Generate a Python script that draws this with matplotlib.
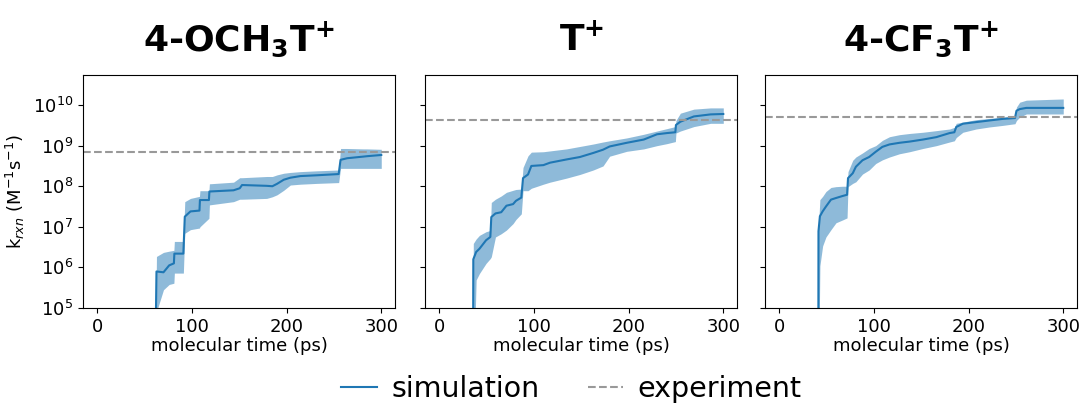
"""Rate-constant convergence for three substituted tropylium cations."""

import matplotlib

matplotlib.use("Agg")
import matplotlib.pyplot as plt  # noqa: E402
import numpy as np  # noqa: E402
from matplotlib.ticker import NullLocator  # noqa: E402

SIM_C = "#1f77b4"
EXP_C = "#999999"

plt.rcParams.update({
    "mathtext.fontset": "custom",
    "mathtext.rm": "DejaVu Sans",
    "mathtext.it": "DejaVu Sans:italic",
    "mathtext.bf": "DejaVu Sans:bold",
})

titles = ["4-OCH$_\\mathbf{3}$T$^\\mathbf{+}$", "T$^\\mathbf{+}$", "4-CF$_\\mathbf{3}$T$^\\mathbf{+}$"]
experiment = [7.0e8, 4.3e9, 5.1e9]

# --- 4-OCH3T+ (log10 k) ---
och3_t = [61, 62.6, 70, 76, 81, 81.5, 91, 92.5, 98.5, 108, 108.5, 118, 118.5, 144,
          150.5, 153, 179, 185, 190, 197, 204, 214.5, 232, 255, 257, 264, 281, 285, 300]
och3_mean = [3.0, 5.9, 5.88, 6.05, 6.1, 6.34, 6.34, 7.25, 7.38, 7.40, 7.66, 7.66, 7.87, 7.90,
             7.95, 8.03, 8.01, 8.0, 8.06, 8.16, 8.21, 8.25, 8.27, 8.3, 8.65, 8.69, 8.73, 8.74, 8.77]
och3_hi = [3.0, 6.27, 6.37, 6.40, 6.42, 6.64, 6.64, 7.62, 7.70, 7.75, 7.89, 7.89, 8.06, 8.10,
           8.21, 8.21, 8.24, 8.24, 8.28, 8.32, 8.34, 8.36, 8.38, 8.4, 8.93, 8.93, 8.92, 8.92, 8.91]
och3_lo = [3.0, 4.9, 5.45, 5.58, 5.61, 5.86, 5.86, 6.84, 6.93, 6.97, 7.0, 7.21, 7.54, 7.62,
           7.68, 7.68, 7.70, 7.74, 7.79, 7.9, 8.03, 8.05, 8.07, 8.09, 8.44, 8.44, 8.44, 8.44, 8.44]

# --- T+ ---
t_t = [35.7, 36, 39, 42.5, 49.5, 54, 55, 59.4, 65.5, 71, 78, 81, 86.7, 88.5, 93.8, 97.3,
       110, 117, 134.5, 148.6, 162.7, 173, 180, 198, 216, 230, 240.6, 249.4, 250, 254.7,
       269, 286.6, 300]
t_mean = [3.0, 6.2, 6.38, 6.46, 6.67, 6.75, 7.24, 7.33, 7.36, 7.52, 7.56, 7.64, 7.72, 8.2,
          8.29, 8.5, 8.52, 8.58, 8.66, 8.72, 8.82, 8.9, 8.98, 9.07, 9.15, 9.28, 9.31, 9.33,
          9.51, 9.59, 9.72, 9.77, 9.78]
t_hi = [3.0, 6.59, 6.70, 6.79, 6.88, 6.91, 7.6, 7.68, 7.76, 7.85, 7.9, 7.92, 7.93, 8.46,
        8.75, 8.84, 8.85, 8.87, 8.92, 8.98, 9.04, 9.09, 9.12, 9.19, 9.28, 9.36, 9.42, 9.47,
        9.62, 9.8, 9.9, 9.93, 9.93]
t_lo = [3.0, 3.0, 5.69, 5.85, 6.1, 6.22, 6.26, 6.75, 6.83, 6.92, 7.08, 7.18, 7.32, 7.89,
        7.89, 7.95, 8.05, 8.1, 8.2, 8.29, 8.4, 8.5, 8.74, 8.86, 8.92, 9.0, 9.05, 9.1,
        9.31, 9.36, 9.47, 9.55, 9.55]

# --- 4-CF3T+ ---
cf3_t = [41.3, 41.5, 43, 45.9, 49.4, 54.7, 60, 67, 71.7, 72.7, 77.7, 81, 88, 95, 102, 109,
         116.5, 127, 137.7, 151.8, 166, 180, 185, 187, 194, 208, 222, 236.5, 249, 250.6,
         254, 261, 286, 300]
cf3_mean = [3.0, 6.89, 7.26, 7.38, 7.5, 7.67, 7.71, 7.76, 7.79, 8.2, 8.32, 8.48, 8.64, 8.72,
            8.85, 8.97, 9.03, 9.07, 9.1, 9.15, 9.21, 9.31, 9.33, 9.46, 9.54, 9.58, 9.62, 9.66,
            9.68, 9.86, 9.9, 9.93, 9.93, 9.93]
cf3_hi = [3.0, 7.02, 7.67, 7.75, 7.87, 7.97, 7.99, 8.0, 8.0, 8.36, 8.64, 8.72, 8.82, 8.93,
          9.0, 9.13, 9.22, 9.27, 9.3, 9.33, 9.37, 9.41, 9.45, 9.55, 9.58, 9.64, 9.67, 9.7,
          9.74, 9.95, 10.07, 10.12, 10.14, 10.15]
cf3_lo = [3.0, 3.0, 6.04, 6.53, 6.75, 6.93, 7.1, 7.17, 7.22, 7.99, 8.07, 8.11, 8.3, 8.4,
          8.56, 8.65, 8.72, 8.8, 8.85, 8.93, 9.0, 9.09, 9.12, 9.2, 9.33, 9.41, 9.46, 9.5,
          9.54, 9.62, 9.7, 9.78, 9.78, 9.78]

panels = [
    (och3_t, och3_mean, och3_lo, och3_hi),
    (t_t, t_mean, t_lo, t_hi),
    (cf3_t, cf3_mean, cf3_lo, cf3_hi),
]

fig = plt.figure(figsize=(10.82, 4.05), dpi=100)
lefts = [0.0767, 0.3928, 0.707]
axes = []
for i, left in enumerate(lefts):
    ax = fig.add_axes([left, 0.2395, 0.2888, 0.5753], sharey=axes[0] if axes else None)
    axes.append(ax)
    t, mean, lo, hi = (np.asarray(a, dtype=float) for a in panels[i])
    ax.fill_between(t, 10 ** lo, 10 ** hi, color=SIM_C, alpha=0.5, lw=0)
    ax.plot(t, 10 ** mean, color=SIM_C, lw=1.5, label="simulation")
    ax.axhline(experiment[i], ls="--", color=EXP_C, lw=1.5, label="experiment")
    ax.set_yscale("log")
    ax.set_ylim(1e5, 5.5e10)
    ax.set_xlim(-15, 315)
    ax.set_xticks([0, 100, 200, 300])
    ax.yaxis.set_minor_locator(NullLocator())
    ax.set_yticks([1e5, 1e6, 1e7, 1e8, 1e9, 1e10])
    ax.tick_params(labelsize=13)
    ax.set_xlabel("molecular time (ps)", fontsize=13, labelpad=1)
    ax.set_title(titles[i], fontsize=26, fontweight="bold", pad=18)
    if i > 0:
        ax.tick_params(labelleft=False)

axes[0].set_ylabel("k$_{rxn}$ (M$^{-1}$s$^{-1}$)", fontsize=13, labelpad=4)

# legend sits right at the bottom edge, as in the original figure
handles, labels = axes[0].get_legend_handles_labels()
fig.legend(handles, labels, loc="lower center", bbox_to_anchor=(0.528, -0.058), ncol=2,
           frameon=False, fontsize=20.5, handlelength=1.26, handletextpad=0.5,
           columnspacing=1.7)

fig.savefig("out.png", dpi=100)
